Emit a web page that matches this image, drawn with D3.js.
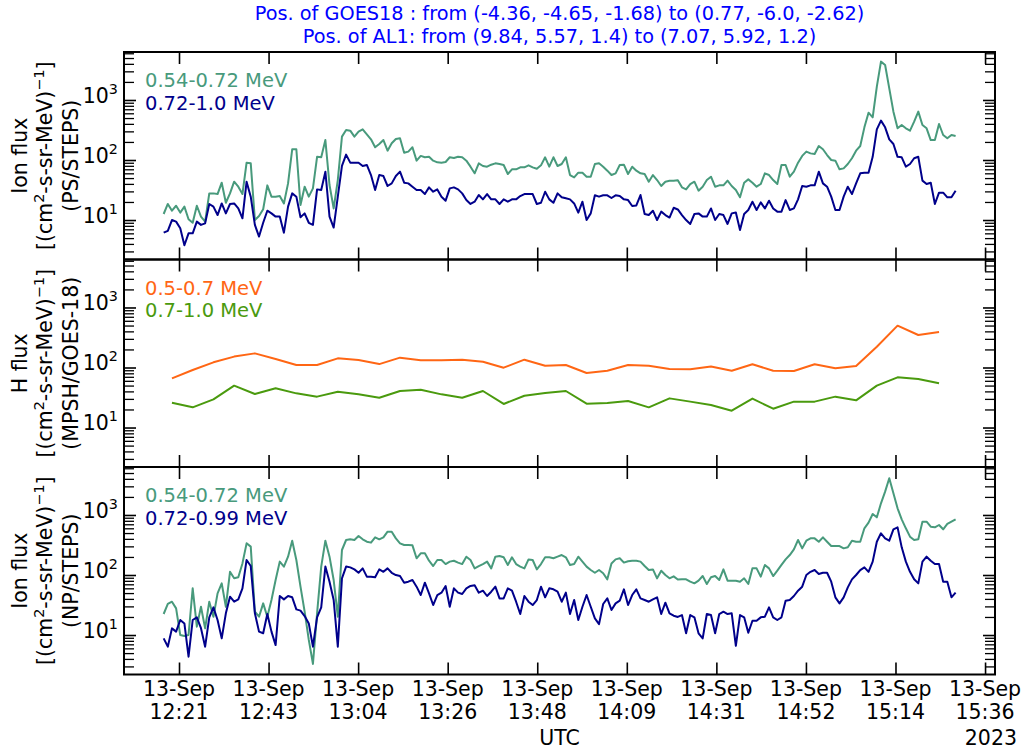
<!DOCTYPE html>
<html>
<head>
<meta charset="utf-8">
<script src="https://cdn.jsdelivr.net/npm/d3@7"></script>
<style>
  body { margin: 0; background: #fff; }
  svg { display: block; font-family: "DejaVu Sans", sans-serif; }
</style>
</head>
<body>
<svg id="chart" width="1021" height="752"></svg>
<script>
// ---- time bases (UTC) ----
const stepsStart = Date.UTC(2023, 8, 13, 12, 18, 0);   // STEPS, 1-min cadence
const mpshStart  = Date.UTC(2023, 8, 13, 12, 20, 0);   // MPSH, 5-min cadence

// ---- PS/STEPS ion flux ----
const psLow = [
  12.6, 18.5, 14.3, 17.3, 13.3, 16.7, 10.3, 9.0, 17.3, 11.4,
  9.4, 27.8, 27.8, 27.1, 41.9, 19.4, 27.8, 43.5, 35.9, 27.1,
  90.3, 88, 10, 11.7, 15.1, 37.8, 24.5, 24.5, 25.1, 18.9,
  40.8, 151, 151, 17.8, 35.9, 24.5, 33.7, 113, 111, 215,
  38.3, 15.6, 46.4, 245, 316, 308, 245, 297, 324, 268,
  221, 163, 185, 215, 143, 190, 224, 230, 132, 138,
  163, 97.5, 117, 111, 113, 97.5, 91.5, 90.3, 92.6, 111,
  108, 113, 111, 97.5, 77.4, 60, 88, 79.4, 77.4, 83.6,
  88, 85.8, 82.6, 58.4, 69.9, 69.9, 75.4, 75.4, 81.5, 75.4,
  71.7, 81.5, 111, 77.4, 111, 79.4, 85.8, 111, 56.2, 51.4,
  61.5, 61.5, 52.7, 52.7, 85.8, 88, 77.4, 66.4, 56.2, 60,
  82.6, 83.6, 58.4, 77.4, 66.4, 60, 58.4, 43.5, 56.2, 46.4,
  36.9, 43.5, 45, 45, 46, 35, 32.4, 39.8, 43.5, 30.8,
  35.9, 46.4, 52.7, 35.9, 37.8, 37.8, 45.3, 36.9, 31.6, 23.9,
  41.9, 47.6, 41.9, 35.9, 39.8, 60, 56.2, 46.4, 39.8, 82.6,
  82.6, 52.7, 63.9, 90.3, 117, 138, 129, 126, 171, 151,
  121, 100, 97.5, 69.9, 72.6, 85.8, 107, 143, 171, 350,
  615, 514, 1668, 4355, 3830, 1563, 639, 337, 383, 337,
  308, 435, 639, 383, 337, 215, 215, 398, 261, 230,
  261, 251
];
const psHigh = [
  6.15, 6.6, 10, 9.4, 7.3, 3.8, 6.0, 6.0, 9.4, 8.3,
  8.8, 18.5, 16.7, 12.1, 18.9, 12.9, 18.5, 18.9, 15.6, 10.7,
  43.5, 24.5, 8.3, 5.3, 9.0, 14.3, 12.9, 11.4, 11.4, 6.15,
  16.7, 27.8, 24.5, 11.1, 12.9, 9.0, 8.3, 32.4, 31.6, 63.9,
  11.4, 7.5, 24.5, 80, 123, 90.3, 90.3, 90.3, 79.4, 82.6,
  56.2, 31.6, 56.2, 54.1, 36.9, 40.8, 54.1, 63.9, 41.9, 40.8,
  35.9, 31.6, 31.6, 27.1, 35, 29.6, 32.4, 24.5, 21, 33.7,
  35, 32.4, 27.8, 21.5, 18.5, 20.2, 26.1, 22.1, 27.1, 22.1,
  22.1, 18.5, 22.1, 20.2, 22.1, 22.1, 25.1, 27.1, 27.1, 27.1,
  18.5, 19.4, 29.6, 22.1, 19.4, 27.8, 23.9, 23, 22.1, 18.9,
  13.3, 20.2, 10, 12.9, 25.8, 24.5, 25.8, 25.8, 23.3, 25.8,
  25.1, 22.1, 21.5, 17.1, 17.5, 26.1, 12.6, 12.1, 14.3, 10,
  13.8, 12.1, 11, 16, 15, 12.1, 10, 8.6, 12.6, 12.9,
  11.4, 11.4, 15.6, 10, 12.6, 12.1, 8.6, 12.9, 13.3, 6.8,
  12.6, 14.7, 20.2, 14.7, 19.7, 15.6, 21, 15.6, 13.8, 13.8,
  21.5, 14.7, 15.6, 22.1, 36.9, 35.9, 37.8, 37.8, 63.9, 40.8,
  35.9, 24.5, 14.7, 14.7, 24.5, 35.9, 27.1, 40.8, 60, 61.5,
  61.5, 113, 324, 453, 350, 221, 185, 113, 111, 77.4,
  85.8, 107, 113, 45.3, 39.8, 41.9, 18.5, 28.6, 28.6, 23.9,
  23.9, 30.8
];

// ---- MPSH/GOES-18 H flux ----
const goesLow = [
  65.9, 90.9, 122, 152, 172, 139, 110, 110, 142, 133,
  114, 146, 132, 132, 135, 125, 99.3, 135, 107, 110,
  81, 88.5, 110, 107, 94.4, 93.2, 104, 88.5, 113, 88.5,
  87.5, 113, 96.8, 106, 222, 498, 348, 391
];
const goesHigh = [
  25.9, 21.7, 29.4, 49.8, 36.2, 45, 37.1, 32.7, 39.5, 35.7,
  31.4, 40.6, 42.7, 35.7, 31.4, 40.6, 24.7, 33.9, 37.6, 40.6,
  25, 25.6, 27.7, 21.7, 30.6, 27, 23.7, 19.1, 30.3, 20.6,
  27, 27, 32.7, 28.4, 49.8, 68.5, 64.3, 54.5
];

// ---- NP/STEPS ion flux ----
const npLow = [
  22.4, 32.9, 35.9, 27.8, 10, 9.6, 10, 60, 13.8, 29.6,
  12.9, 35.9, 20.2, 49.5, 72.6, 29.6, 113, 88, 91.5, 156,
  337, 297, 24.5, 20.2, 33.7, 20.2, 38.3, 82.6, 167, 138,
  202, 373, 178, 63.9, 24.5, 8.3, 3.3, 23, 138, 373,
  202, 82.6, 20.2, 261, 383, 393, 383, 447, 393, 359,
  346, 424, 393, 424, 527, 527, 408, 337, 316, 316,
  312, 190, 230, 230, 173, 141, 178, 178, 152, 167,
  173, 161, 152, 202, 178, 129, 141, 152, 167, 129,
  202, 207, 197, 147, 197, 152, 138, 129, 182, 178,
  124, 152, 197, 197, 190, 202, 215, 197, 147, 152,
  202, 167, 138, 121, 109, 121, 107, 84.7, 156, 182,
  190, 161, 169, 173, 173, 167, 141, 121, 124, 88,
  118, 100, 88, 95, 84, 84.7, 84.7, 77.4, 72.6, 80.5,
  96.2, 70.8, 91.5, 96.2, 82.6, 124, 80.5, 80.5, 80.5, 77.4,
  88, 70.8, 129, 129, 93.8, 147, 129, 96.2, 118, 147,
  182, 215, 268, 383, 278, 373, 408, 408, 359, 424,
  359, 304, 304, 304, 278, 289, 373, 359, 359, 600,
  745, 1040, 914, 1563, 2447, 4083, 2296, 1291, 847, 600,
  435, 383, 393, 774, 774, 639, 622, 681, 577, 708,
  774, 847
];
const npHigh = [
  8.8, 6.4, 12.9, 11.4, 17.8, 15.6, 4.35, 17.8, 19.7, 13,
  6.4, 19.7, 28.9, 17.8, 8.8, 23, 43.5, 35.9, 39.3, 60,
  178, 141, 23, 11.4, 10.7, 22.4, 11.4, 6.8, 44.7, 39.3,
  44.7, 42.5, 26.8, 25.5, 20.7, 15.6, 6.4, 19.7, 28.9, 138,
  77.4, 38.3, 6.4, 88, 138, 134, 124, 109, 129, 93.8,
  93.8, 91.5, 124, 113, 129, 109, 100, 96.2, 74.5, 77.4,
  82.6, 63.9, 46.4, 74.5, 49.5, 31.6, 46.4, 50.8, 65.6, 29.6,
  60, 50.8, 48.2, 60, 65.6, 67.3, 50.8, 54.8, 44.7, 52.7,
  63.9, 40.8, 40.8, 60, 54.8, 35.9, 22.4, 44.7, 35.9, 31.6,
  38.3, 63.9, 42.5, 60, 57.7, 52.7, 35.9, 50.8, 22.4, 38.3,
  17.8, 29.6, 46.4, 29.6, 18.9, 15.2, 32.9, 40.8, 26.1, 33.7,
  37.3, 57.7, 31.6, 46.4, 57.7, 40.8, 38.3, 35.9, 39.3, 42.5,
  22.4, 34.6, 23, 21, 20, 21.5, 10.7, 21.5, 19.7, 10.7,
  8.8, 22.4, 21.5, 10.7, 22.4, 24.5, 22.4, 23, 6.6, 21.5,
  19.7, 10.9, 17.3, 17.3, 19.7, 20.2, 28.9, 19.7, 17.8, 19.7,
  37.3, 38.3, 44.7, 54.8, 63.9, 100, 113, 121, 104, 109,
  109, 77.4, 42.5, 33.7, 42.5, 62.2, 84.7, 100, 121, 134,
  113, 167, 359, 495, 408, 373, 577, 622, 289, 167,
  113, 84.7, 72.6, 167, 202, 173, 152, 152, 77.4, 77.4,
  42.5, 50.8
];

// ---- axis ticks ----
const xTickTimes = ["12:21:42", "12:43:18", "13:04:54", "13:26:30", "13:48:06",
                    "14:09:42", "14:31:18", "14:52:54", "15:14:30", "15:36:06"];
const yMajorTicks = [10, 100, 1000];
const yearLabel = "2023";
const titleLines = [
  "Pos. of GOES18 : from (-4.36, -4.65, -1.68) to (0.77, -6.0, -2.62)",
  "Pos. of AL1: from (9.84, 5.57, 1.4) to (7.07, 5.92, 1.2)"
];

// ---- layout ----
const plotLeft = 124, plotRight = 995, plotTop = 52, panelH = 207.5;
const fs = 20.5, titleFs = 19.3, legendFs = 19.5;
const teal = "#489a7c", navy = "#00008b", orange = "#ff6614", green = "#4a9a0e";

const svg = d3.select("#chart");
svg.append("rect").attr("width", 1021).attr("height", 752).attr("fill", "#fff");

const parseT = s => {
  const [h, m, sec] = s.split(":").map(Number);
  return new Date(Date.UTC(2023, 8, 13, h, m, sec));
};
const xTicks = xTickTimes.map(parseT);

const x = d3.scaleUtc()
  .domain([new Date(Date.UTC(2023, 8, 13, 12, 8, 26)), new Date(Date.UTC(2023, 8, 13, 15, 38, 30))])
  .range([plotLeft, plotRight]);

const toSeries = (start, stepMin, vals) =>
  vals.map((v, i) => ({ t: new Date(start + i * stepMin * 60000), v }));

const panels = [
  { ylab: ["Ion flux", null, "(PS/STEPS)"],
    series: [
      { name: "0.54-0.72 MeV", color: teal, data: toSeries(stepsStart, 1, psLow) },
      { name: "0.72-1.0 MeV",  color: navy, data: toSeries(stepsStart, 1, psHigh) } ] },
  { ylab: ["H flux", null, "(MPSH/GOES-18)"],
    series: [
      { name: "0.5-0.7 MeV", color: orange, data: toSeries(mpshStart, 5, goesLow) },
      { name: "0.7-1.0 MeV", color: green,  data: toSeries(mpshStart, 5, goesHigh) } ] },
  { ylab: ["Ion flux", null, "(NP/STEPS)"],
    series: [
      { name: "0.54-0.72 MeV", color: teal, data: toSeries(stepsStart, 1, npLow) },
      { name: "0.72-0.99 MeV", color: navy, data: toSeries(stepsStart, 1, npHigh) } ] }
];

// minor ticks of the log axis: 2..9 x 10^k
const yMinorTicks = [];
for (let k = 0; k <= 3; k++) for (let m = 2; m <= 9; m++) yMinorTicks.push(m * Math.pow(10, k));

function styleAxis(g, width) {
  g.select(".domain").remove();
  g.selectAll(".tick line").attr("stroke", "#000").attr("stroke-width", width);
}

const ylabBaselines = [26.5, 52, 77.5];

panels.forEach((p, pi) => {
  const top = plotTop + pi * panelH, bottom = top + panelH;
  const y = d3.scaleLog().domain([2.2, 6300]).range([bottom, top]);
  const yMinor = yMinorTicks.filter(v => v > 2.2 && v < 6300);
  const g = svg.append("g");

  // data lines
  const line = d3.line().x(d => x(d.t)).y(d => y(d.v));
  p.series.forEach(s => {
    g.append("path").datum(s.data)
      .attr("d", line).attr("fill", "none")
      .attr("stroke", s.color).attr("stroke-width", 2)
      .attr("stroke-linejoin", "round");
  });

  // y axes (inward ticks, both sides)
  g.append("g").attr("transform", `translate(${plotLeft},0)`)
    .call(d3.axisLeft(y).tickValues(yMinor).tickSize(-10).tickFormat(""))
    .call(a => styleAxis(a, 1.3));
  g.append("g").attr("transform", `translate(${plotRight},0)`)
    .call(d3.axisRight(y).tickValues(yMinor).tickSize(-10).tickFormat(""))
    .call(a => styleAxis(a, 1.3));
  const yl = g.append("g").attr("transform", `translate(${plotLeft},0)`)
    .call(d3.axisLeft(y).tickValues(yMajorTicks).tickSize(-12).tickPadding(6).tickFormat(""))
    .call(a => styleAxis(a, 1.6));
  yl.selectAll(".tick text")
    .attr("font-size", fs).attr("font-family", "DejaVu Sans").attr("fill", "#000")
    .attr("dy", "0.1em")
    .each(function(d) {
      const t = d3.select(this);
      t.text("10");
      t.append("tspan").attr("dy", -9).attr("font-size", fs * 0.7).text(Math.round(Math.log10(d)));
    });
  g.append("g").attr("transform", `translate(${plotRight},0)`)
    .call(d3.axisRight(y).tickValues(yMajorTicks).tickSize(-12).tickFormat(""))
    .call(a => styleAxis(a, 1.6));

  // x axes (inward ticks on top and bottom)
  g.append("g").attr("transform", `translate(0,${top})`)
    .call(d3.axisTop(x).tickValues(xTicks).tickSize(-12).tickFormat(""))
    .call(a => styleAxis(a, 1.6));
  g.append("g").attr("transform", `translate(0,${bottom})`)
    .call(d3.axisBottom(x).tickValues(xTicks).tickSize(-12).tickFormat(""))
    .call(a => styleAxis(a, 1.6));

  // frame
  g.append("rect").attr("x", plotLeft).attr("y", top)
    .attr("width", plotRight - plotLeft).attr("height", panelH)
    .attr("fill", "none").attr("stroke", "#000").attr("stroke-width", 2);

  // legend: one coloured line per series
  p.series.forEach((s, si) => {
    g.append("text").attr("x", 145).attr("y", top + 35 + si * 22.8)
      .attr("font-size", legendFs).attr("fill", s.color).text(s.name);
  });

  // y label, three lines
  const cy = top + panelH / 2;
  p.ylab.forEach((txt, li) => {
    const t = g.append("text")
      .attr("transform", `translate(${ylabBaselines[li]},${cy}) rotate(-90)`)
      .attr("text-anchor", "middle").attr("font-size", fs).attr("fill", "#000");
    if (txt !== null) { t.text(txt); return; }
    t.append("tspan").text("[(cm");
    t.append("tspan").attr("dy", -8).attr("font-size", fs * 0.7).text("2");
    t.append("tspan").attr("dy", 8).text("-s-sr-MeV)");
    t.append("tspan").attr("dy", -8).attr("font-size", fs * 0.7).text("\u22121");
    t.append("tspan").attr("dy", 8).text("]");
  });
});

// x tick labels under the last panel
const fmtDay = d3.utcFormat("%d-%b"), fmtHM = d3.utcFormat("%H:%M");
const xl = svg.append("g");
xTicks.forEach(t => {
  xl.append("text").attr("x", x(t)).attr("y", 696).attr("text-anchor", "middle")
    .attr("font-size", fs).text(fmtDay(t));
  xl.append("text").attr("x", x(t)).attr("y", 719).attr("text-anchor", "middle")
    .attr("font-size", fs).text(fmtHM(t));
});
svg.append("text").attr("x", (plotLeft + plotRight) / 2).attr("y", 745)
  .attr("text-anchor", "middle").attr("font-size", fs).text("UTC");
svg.append("text").attr("x", 1017).attr("y", 745)
  .attr("text-anchor", "end").attr("font-size", fs).text(yearLabel);

// title
titleLines.forEach((s, i) => {
  svg.append("text").attr("x", (plotLeft + plotRight) / 2).attr("y", 20 + i * 23)
    .attr("text-anchor", "middle").attr("font-size", titleFs).attr("fill", "#0000ff").text(s);
});
</script>
</body>
</html>
